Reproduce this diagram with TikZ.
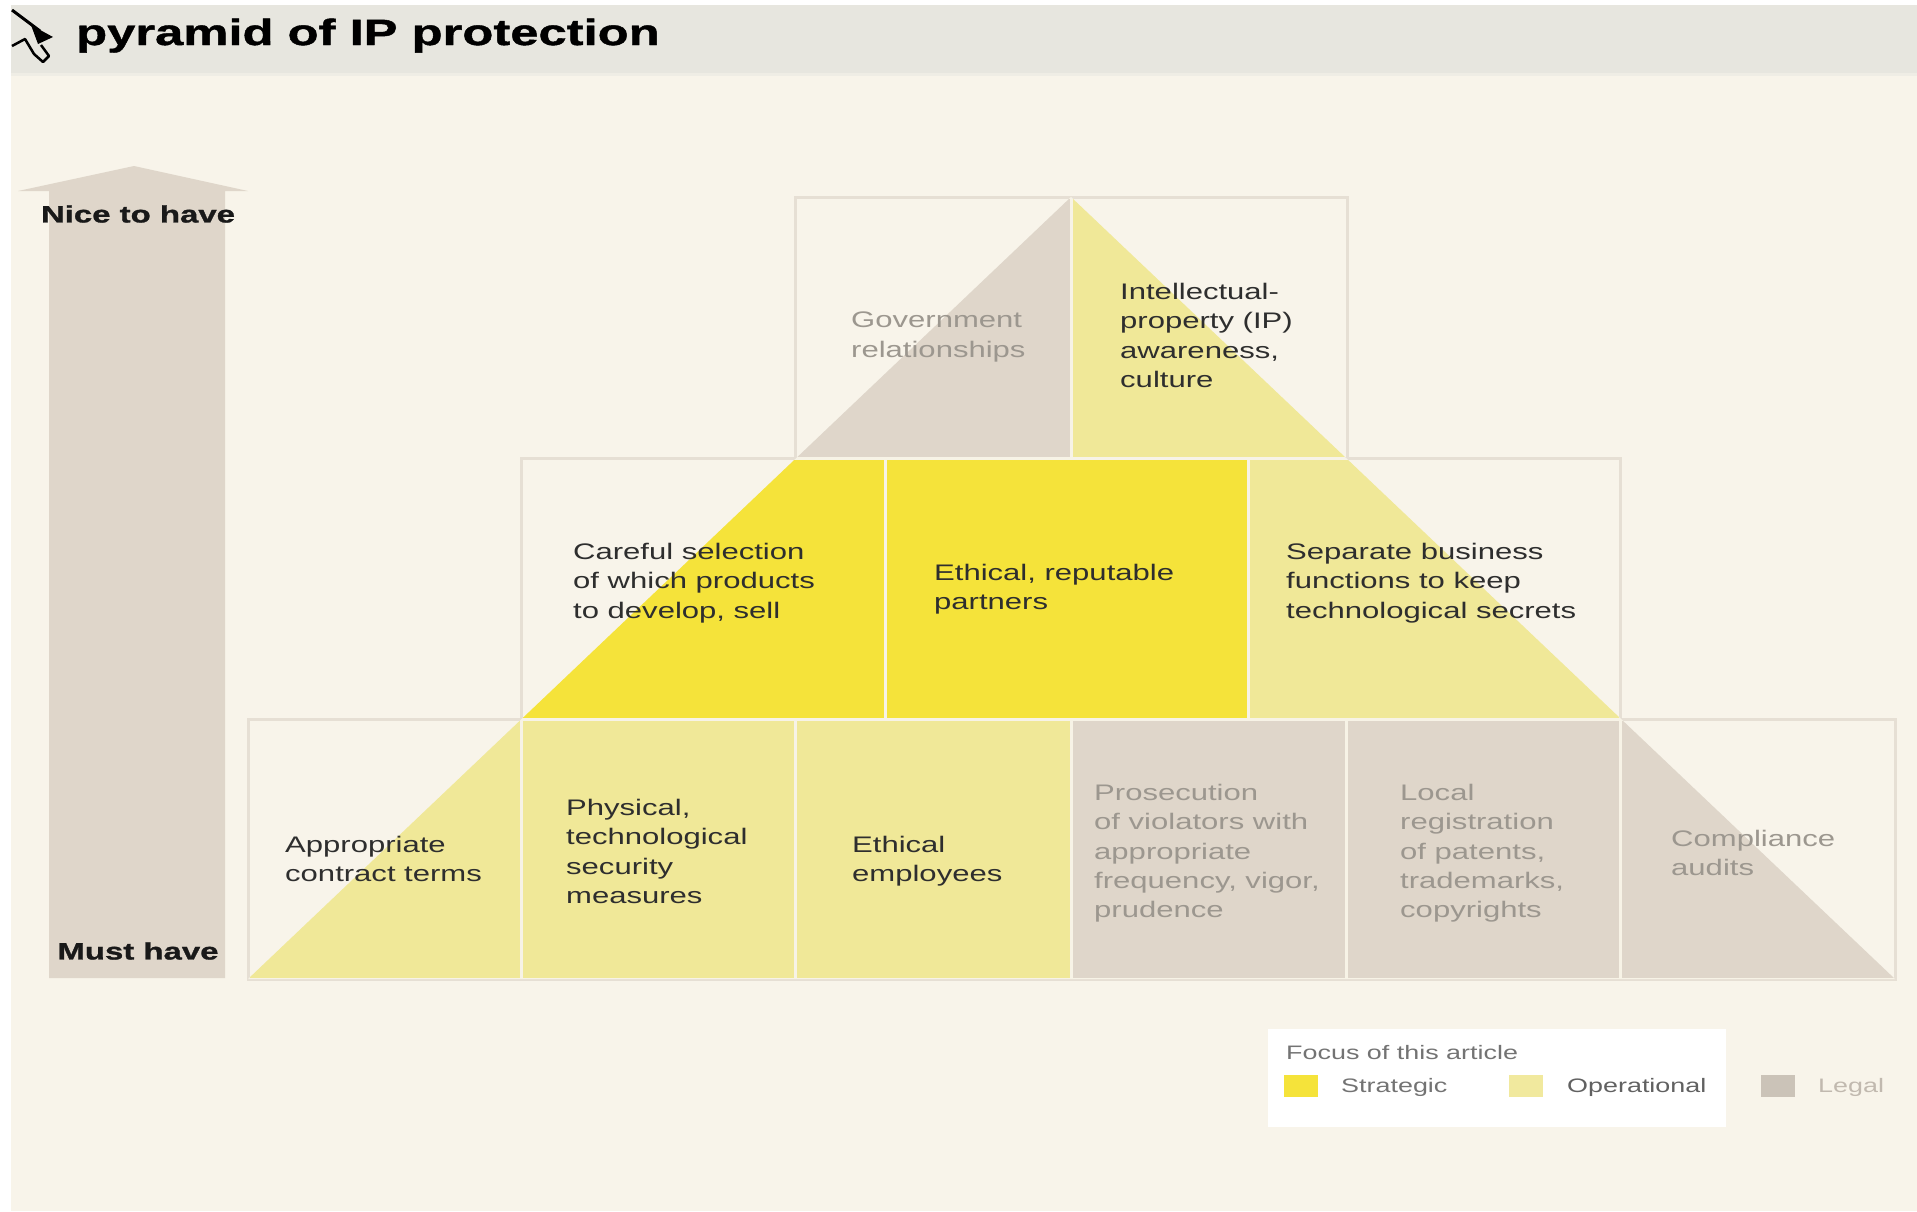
\documentclass[tikz,border=0pt]{standalone}
\usepackage{fontspec}
\setmainfont{Liberation Sans}[FakeStretch=1.38]
\newfontfamily\heavyfont{Liberation Sans}[FakeStretch=1.39, FakeBold=1.2]
\definecolor{cream}{HTML}{F8F4EA}
\definecolor{band}{HTML}{E7E6DF}
\definecolor{bandline}{HTML}{EFEDE5}
\definecolor{legalc}{HTML}{DFD6CA}
\definecolor{operc}{HTML}{F0E898}
\definecolor{stratc}{HTML}{F5E33A}
\definecolor{gridbeige}{HTML}{E6DFD4}
\definecolor{gridlight}{HTML}{F7F3E6}
\definecolor{txtdark}{HTML}{2E2E2E}
\definecolor{txtgrey}{HTML}{9C978F}
\definecolor{legsw}{HTML}{CBC3B8}
\definecolor{legop}{HTML}{F1E99E}
\begin{document}
\begin{tikzpicture}[x=1pt,y=-1pt,
  body/.style={anchor=north west, inner sep=0pt, align=left, font=\fontsize{22.5}{29.3}\selectfont, text=txtdark},
  legaltext/.style={body, text=txtgrey},
  legendtext/.style={anchor=west, inner sep=0pt, font=\fontsize{19.5}{23}\selectfont},
  swatch/.style={minimum width=34pt, minimum height=22pt, inner sep=0pt},
  gridline/.style={line width=3pt},
  boldlabel/.style={inner sep=0pt, text=black!90, font=\heavyfont\bfseries\fontsize{23.7}{28}\selectfont}
]
\useasboundingbox (0,0) rectangle (1917,1211);
\fill[white] (0,0) rectangle (1917,1211);
\fill[cream] (11,73) rectangle (1917,1211);
\fill[band] (11,5) rectangle (1917,73);
\fill[bandline] (11,73) rectangle (1917,76);

% cursor
\draw[black, line width=3pt] (12,10) -- (40,31);
\fill[black] (31,25) -- (53,37) -- (38,44) -- cycle;
\draw[black, line width=2.5pt, line join=round] (12,46) -- (25,39) -- (34,54) -- (43,62) -- (49,56) -- (41,45);

% title
\node[anchor=base west, inner sep=0pt, text=black, font=\heavyfont\bfseries\fontsize{36.5}{40}\selectfont] (title) at (76,45) {pyramid of IP protection};

% left arrow
\fill[legalc] (49,978) -- (49,191) -- (18,191) -- (134,166) -- (248,191) -- (225,191) -- (225,978) -- cycle;
\node[boldlabel] (nice) at (138,214) {Nice to have};
\node[boldlabel] (must) at (138,951) {Must have};

% pyramid fills
\begin{scope}
\clip (1071,197) -- (248,979) -- (1895,979) -- cycle;
\fill[legalc] (795,197) rectangle (1071,458);
\fill[operc] (1071,197) rectangle (1347,458);
\fill[stratc] (521,458) rectangle (1248,719);
\fill[operc] (1248,458) rectangle (1620,719);
\fill[operc] (248,719) rectangle (1071,979);
\fill[legalc] (1071,719) rectangle (1895,979);
\end{scope}

% grid (beige outside the pyramid)
\draw[gridline, gridbeige] (795,197) rectangle (1347,458)
  (521,458) rectangle (1620,719)
  (248,719) rectangle (1895,979)
  (1071,197) -- (1071,458)
  (885,458) -- (885,719) (1248,458) -- (1248,719)
  (521,719) -- (521,979) (795,719) -- (795,979) (1071,719) -- (1071,979)
  (1346,719) -- (1346,979) (1620,719) -- (1620,979);
% grid (light inside the pyramid)
\begin{scope}
\clip (1071,197) -- (248,979) -- (1895,979) -- cycle;
\draw[gridline, gridlight] (795,197) rectangle (1347,458)
  (521,458) rectangle (1620,719)
  (248,719) rectangle (1895,979)
  (1071,197) -- (1071,458)
  (885,458) -- (885,719) (1248,458) -- (1248,719)
  (521,719) -- (521,979) (795,719) -- (795,979) (1071,719) -- (1071,979)
  (1346,719) -- (1346,979) (1620,719) -- (1620,979);
\end{scope}

% texts
\node[legaltext] (gov) at (851,312) {Government\\relationships};
\node[body] (ipa) at (1120,283) {Intellectual-\\property (IP)\\awareness,\\culture};
\node[body] (careful) at (573,543) {Careful selection\\of which products\\to develop, sell};
\node[body] (partners) at (934,564) {Ethical, reputable\\partners};
\node[body] (separate) at (1286,543) {Separate business\\functions to keep\\technological secrets};
\node[body] (contract) at (285,836) {Appropriate\\contract terms};
\node[body] (physical) at (566,799) {Physical,\\technological\\security\\measures};
\node[body] (employees) at (852,836) {Ethical\\employees};
\node[legaltext] (prosecution) at (1094,784) {Prosecution\\of violators with\\appropriate\\frequency, vigor,\\prudence};
\node[legaltext] (local) at (1400,784) {Local\\registration\\of patents,\\trademarks,\\copyrights};
\node[legaltext] (compliance) at (1671,830) {Compliance\\audits};

% legend
\fill[white] (1268,1029) rectangle (1726,1127);
\node[legendtext, text=black!55] (focus) at (1286,1053) {Focus of this article};
\node[swatch, fill=stratc, anchor=west] (swS) at (1284,1086) {};
\node[legendtext, text=black!55] (labS) at (1341,1087) {Strategic};
\node[swatch, fill=legop, anchor=west] (swO) at (1509,1086) {};
\node[legendtext, text=black!62] (labO) at (1567,1087) {Operational};
\node[swatch, fill=legsw, anchor=west] (swL) at (1761,1086) {};
\node[legendtext, text=legsw!95!black] (labL) at (1818,1087) {Legal};
\end{tikzpicture}
\end{document}
